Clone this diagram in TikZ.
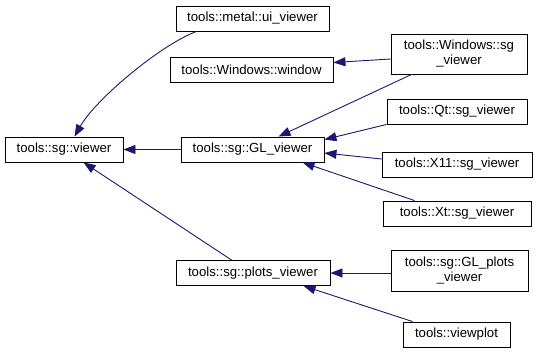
\documentclass[tikz,border=0pt]{standalone}
\usepackage{fontspec}
\setmainfont{Liberation Sans}
\usetikzlibrary{arrows.meta}
\definecolor{edgeblue}{RGB}{25,25,112}
\begin{document}
\begin{tikzpicture}[x=1pt,y=-1pt,
  cls/.style={draw=black, line width=0.9pt, fill=white, inner sep=0pt,
    minimum height=25pt, align=center,
    font=\fontsize{13.2}{15}\selectfont},
  twoline/.style={minimum height=40pt},
  edge/.style={draw=edgeblue, line width=0.9pt,
    -{Triangle[length=12pt,width=9pt]}}]
\path[use as bounding box, fill=white] (0,0) rectangle (537,351);

% class boxes
\node[cls, minimum width=118pt] (viewer) at (64,149.5) {tools::sg::viewer};
\node[cls, minimum width=153pt] (ui) at (252.5,18.5) {tools::metal::ui\_viewer};
\node[cls, minimum width=163pt] (window) at (251.5,69.5) {tools::Windows::window};
\node[cls, minimum width=143pt] (gl) at (252.5,149.5) {tools::sg::GL\_viewer};
\node[cls, minimum width=154pt] (plots) at (253,273) {tools::sg::plots\_viewer};
\node[cls, twoline, minimum width=136pt] (wsg) at (459,54) {tools::Windows::sg\\\_viewer};
\node[cls, minimum width=140pt] (qt) at (457,111.5) {tools::Qt::sg\_viewer};
\node[cls, minimum width=150pt] (x11) at (457,164.5) {tools::X11::sg\_viewer};
\node[cls, minimum width=148pt] (xt) at (457,213.5) {tools::Xt::sg\_viewer};
\node[cls, twoline, minimum width=137pt, minimum height=41pt] (glp) at (459.5,270.5) {tools::sg::GL\_plots\\\_viewer};
\node[cls, minimum width=107pt] (vp) at (456.5,334.5) {tools::viewplot};

% inheritance arrows (derived -> base)
\draw[edge] ([xshift=21pt]ui.south west) .. controls (160,45) and (95,100) .. ([xshift=70pt]viewer.north west);
\draw[edge] (gl.west) -- (viewer.east);
\draw[edge] ([xshift=56pt]plots.north west) -- ([xshift=79pt]viewer.south west);
\draw[edge] ([yshift=-5pt]wsg.west) -- ([yshift=7pt]window.east);
\draw[edge] ([xshift=21pt]wsg.south west) -- ([xshift=98pt]gl.north west);
\draw[edge] (qt.south west) -- ([yshift=-3pt]gl.north east);
\draw[edge] ([yshift=5.5pt]x11.west) -- ([yshift=-3.5pt]gl.east);
\draw[edge] ([xshift=32pt]xt.north west) -- ([xshift=122pt]gl.south west);
\draw[edge] (glp.west |- plots.east) -- (plots.east);
\draw[edge] ([xshift=10pt]vp.north west) -- ([xshift=128pt]plots.south west);
\end{tikzpicture}
\end{document}
